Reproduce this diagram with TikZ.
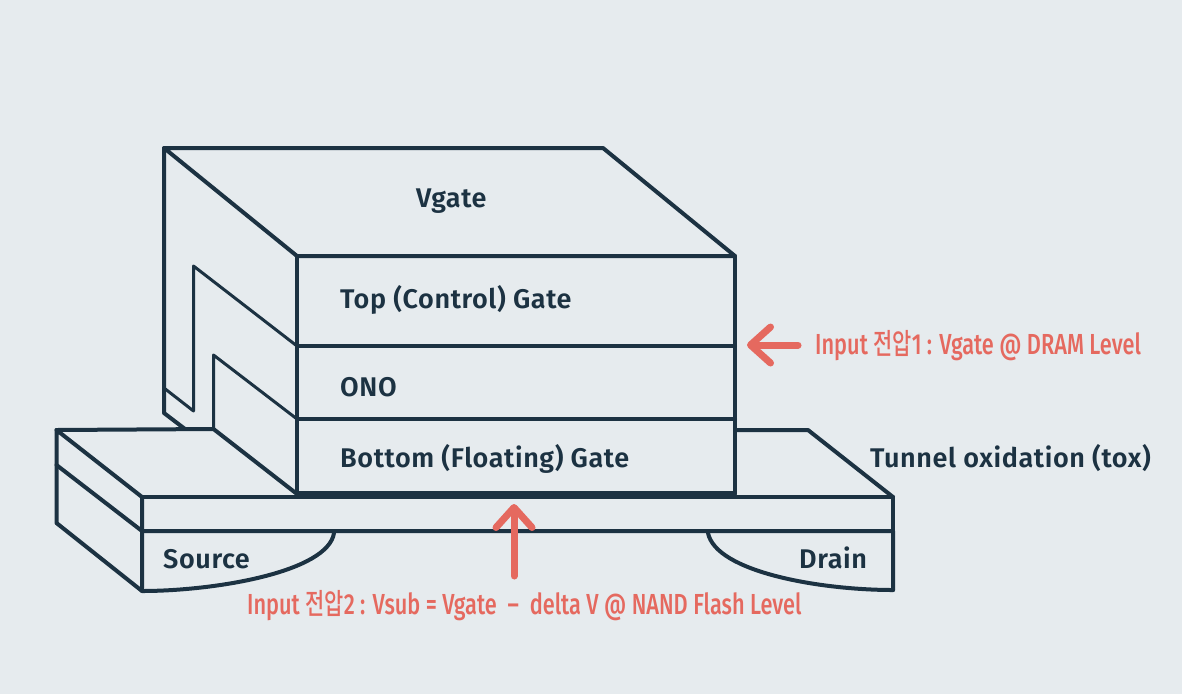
\documentclass[tikz,border=0pt]{standalone}
\usepackage{fontspec}
\setmainfont{Fira Sans SemiBold}
\newfontfamily\lblfont{Fira Sans SemiBold}[LetterSpace=2.2]
\newfontfamily\redfont{Fira Sans Medium}[FakeStretch=0.75]
\newfontfamily\korfont{Noto Sans CJK KR Medium}[FakeStretch=0.72]
\usetikzlibrary{arrows.meta}
\definecolor{bgc}{HTML}{E6EBEE}
\definecolor{ink}{HTML}{1C3242}
\definecolor{redc}{HTML}{E5695F}
\tikzset{
  body/.style={draw=ink,line width=4pt,line join=round,line cap=round},
  thin line/.style={draw=ink,line width=3pt,line join=round,line cap=round},
  lbl/.style={text=ink,font=\lblfont\fontsize{27}{27}\selectfont,inner sep=0pt,anchor=base west},
  redlbl/.style={text=redc,font=\redfont\fontsize{29}{29}\selectfont,inner sep=0pt,anchor=base west},
  volt/.style={draw=redc,line width=7pt,line cap=round,
    -{Straight Barb[length=20pt,width=36pt,line cap=round,line join=round]}},
}
\begin{document}
\begin{tikzpicture}[x=1pt,y=-1pt]
\path[fill=bgc] (0,0) rectangle (1182,694);
\useasboundingbox (0,0) rectangle (1182,694);
% gate block
\coordinate (tl) at (164,148); \coordinate (tr) at (603,148);
\coordinate (fr) at (735,256); \coordinate (fl) at (297,256);
\coordinate (bl) at (297,494); \coordinate (br) at (735,494);
\coordinate (onoTl) at (297,346); \coordinate (onoTr) at (735,346);
\coordinate (onoBl) at (297,419); \coordinate (onoBr) at (735,419);
\draw[body] (tl) -- (tr) -- (fr) -- (fl) -- cycle;
\draw[body] (fr) -- (br);
\draw[body] (fl) -- (bl);
\draw[body] (onoTl) -- (onoTr);
\draw[body] (onoBl) -- (onoBr);
\draw[line width=6pt,draw=ink] (bl) -- (br);
% side face
\coordinate (sideB) at (164,413); \coordinate (sideC) at (185,429);
\coordinate (n1) at (164,388); \coordinate (n2) at (193.5,411); \coordinate (n3) at (193.5,266);
\coordinate (n4) at (213.5,355); \coordinate (n5) at (213.5,429);
\draw[body] (tl) -- (sideB) -- (sideC);
\draw[thin line] (n1) -- (n2) -- (n3) -- (onoTl);
\draw[thin line] (n5) -- (n4) -- (onoBl);
% substrate
\coordinate (sTL) at (56.5,430); \coordinate (sL2) at (56.5,465); \coordinate (sL3) at (56.5,523);
\coordinate (fA) at (142,497); \coordinate (fB) at (142,531); \coordinate (fC) at (142,591);
\coordinate (rA) at (893,497); \coordinate (rB) at (893,531); \coordinate (rC) at (893,590);
\coordinate (rT) at (808,430); \coordinate (rG) at (735,430);
\draw[body] (sTL) -- (n5) -- (bl);
\draw[body] (sTL) -- (sL3) -- (fC) -- (fA) -- (sTL);
\draw[body] (sL2) -- (fB) -- (rB) -- (rC);
\draw[body] (fA) -- (rA) -- (rB);
\draw[body] (rG) -- (rT) -- (rA);
% wells
\coordinate (srcEnd) at (334,533); \coordinate (drnEnd) at (708,533);
\draw[body] (fC) .. controls (215,591) and (328,572) .. (srcEnd);
\draw[body] (rC) .. controls (820,590) and (716,572) .. (drnEnd);
% voltage arrows
\coordinate (a1s) at (798,345); \coordinate (a1e) at (747,345);
\coordinate (a2s) at (514,576); \coordinate (a2e) at (514,504);
\draw[volt] (a1s) -- (a1e);
\draw[volt] (a2s) -- (a2e);
% labels
\node[lbl] (vg) at (416,207) {Vgate};
\node[lbl] (tg) at (340,308) {Top (Control) Gate};
\node[lbl] (ono) at (340,396) {ONO};
\node[lbl] (bg) at (340,467) {Bottom (Floating) Gate};
\node[lbl] (tox) at (870,467) {Tunnel oxidation (tox)};
\node[lbl] (src) at (163,568) {Source};
\node[lbl] (drn) at (799,568) {Drain};
\node[redlbl] (in1) at (815,354) {Input {\korfont 전압}1 : Vgate @ DRAM Level};
\node[redlbl] (in2) at (247,614) {Input {\korfont 전압}2 : Vsub = Vgate \ – \ delta V @ NAND Flash Level};
\end{tikzpicture}
\end{document}
